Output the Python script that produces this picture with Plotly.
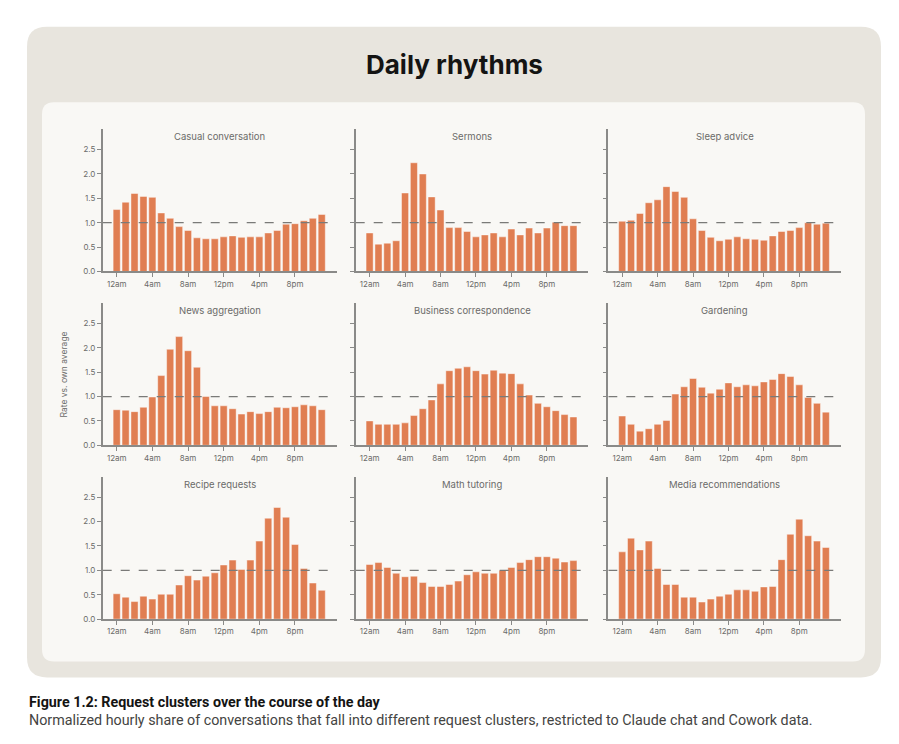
import plotly.graph_objects as go

hours = list(range(24))
tick_vals = [0, 4, 8, 12, 16, 20]
tick_text = ["12am", "4am", "8am", "12pm", "4pm", "8pm"]
y_tick_vals = [0, 0.5, 1.0, 1.5, 2.0, 2.5]
y_tick_text = ["0.0", "0.5", "1.0", "1.5", "2.0", "2.5"]

titles = ["Casual conversation", "Sermons", "Sleep advice",
          "News aggregation", "Business correspondence", "Gardening",
          "Recipe requests", "Math tutoring", "Media recommendations"]

casual = [1.27, 1.42, 1.60, 1.54, 1.52, 1.20, 1.09, 0.92, 0.84, 0.69, 0.67, 0.67,
          0.71, 0.73, 0.70, 0.71, 0.71, 0.79, 0.84, 0.97, 0.98, 1.04, 1.09, 1.17]
sermons = [0.79, 0.56, 0.58, 0.63, 1.61, 2.23, 2.00, 1.53, 1.26, 0.90, 0.90, 0.82,
           0.71, 0.75, 0.79, 0.71, 0.87, 0.75, 0.89, 0.79, 0.89, 1.01, 0.94, 0.94]
sleep = [1.03, 1.05, 1.19, 1.41, 1.47, 1.74, 1.64, 1.52, 1.08, 0.84, 0.70, 0.63,
         0.66, 0.71, 0.67, 0.66, 0.64, 0.73, 0.82, 0.84, 0.90, 1.00, 0.97, 0.99]
news = [0.73, 0.72, 0.69, 0.78, 0.99, 1.43, 1.97, 2.23, 1.94, 1.60, 1.00, 0.81,
        0.81, 0.75, 0.64, 0.69, 0.65, 0.69, 0.78, 0.77, 0.79, 0.83, 0.81, 0.73]
business = [0.50, 0.43, 0.43, 0.43, 0.46, 0.61, 0.75, 0.93, 1.26, 1.53, 1.58, 1.61,
            1.53, 1.46, 1.54, 1.48, 1.47, 1.26, 1.03, 0.86, 0.79, 0.71, 0.63, 0.58]
gardening = [0.60, 0.43, 0.29, 0.34, 0.43, 0.51, 1.05, 1.20, 1.37, 1.19, 1.07, 1.15,
             1.28, 1.20, 1.24, 1.22, 1.30, 1.35, 1.47, 1.41, 1.24, 0.98, 0.86, 0.68]
recipe = [0.52, 0.45, 0.36, 0.47, 0.41, 0.51, 0.51, 0.70, 0.89, 0.80, 0.88, 0.95,
          1.11, 1.21, 1.02, 1.21, 1.60, 2.07, 2.29, 2.09, 1.53, 1.04, 0.74, 0.59]
math = [1.12, 1.16, 1.06, 0.94, 0.87, 0.88, 0.75, 0.67, 0.67, 0.71, 0.78, 0.91,
        0.97, 0.94, 0.94, 1.00, 1.06, 1.16, 1.22, 1.28, 1.28, 1.25, 1.17, 1.20]
media = [1.38, 1.66, 1.42, 1.60, 1.04, 0.71, 0.71, 0.45, 0.45, 0.35, 0.41, 0.47,
         0.51, 0.60, 0.60, 0.57, 0.66, 0.67, 1.22, 1.74, 2.05, 1.71, 1.60, 1.47]

series = [casual, sermons, sleep, news, business, gardening, recipe, math, media]

W, H = 899, 744
BAR = "#E07E52"
AXIS = "#8A8A88"
TXT = "#6B6B69"
FONT = "Inter, Roboto, sans-serif"

col_px = [(102.7, 336.7), (355.7, 588.3), (608.3, 840.7)]
row_px = [(130, 273.3), (305, 448.3), (480, 623.3)]

fig = go.Figure()

for i, (name, vals) in enumerate(zip(titles, series)):
    r, c = divmod(i, 3)
    n = i + 1
    xa = "x" if n == 1 else f"x{n}"
    ya = "y" if n == 1 else f"y{n}"
    fig.add_trace(go.Bar(
        x=hours, y=vals, xaxis=xa, yaxis=ya,
        marker=dict(color=BAR, line=dict(color="rgba(255,255,255,0.55)", width=0.8)),
        showlegend=False, hoverinfo="x+y",
    ))
    x0, x1 = col_px[c]
    y0, y1 = row_px[r]
    xkey = "xaxis" if n == 1 else f"xaxis{n}"
    ykey = "yaxis" if n == 1 else f"yaxis{n}"
    fig.layout[xkey] = dict(
        domain=[x0 / W, x1 / W], anchor=ya, range=[-1.57, 24.68],
        tickvals=tick_vals, ticktext=tick_text, ticks="outside", ticklen=4,
        tickcolor=AXIS, tickwidth=1.2, showline=True, linecolor=AXIS, linewidth=1.5,
        showgrid=False, zeroline=False, tickfont=dict(family=FONT, size=8, color=TXT),
        fixedrange=True,
    )
    fig.layout[ykey] = dict(
        domain=[1 - y1 / H, 1 - y0 / H], anchor=xa, range=[0, 2.92],
        tickvals=y_tick_vals, ticktext=y_tick_text, ticks="outside", ticklen=4,
        tickcolor=AXIS, tickwidth=1.2, showline=True, linecolor=AXIS, linewidth=1.5,
        showgrid=False, zeroline=False, showticklabels=(c == 0),
        tickfont=dict(family=FONT, size=8, color=TXT), fixedrange=True,
    )
    # reference line at 1.0
    fig.add_shape(type="line", xref=xa, yref=ya, x0=-1.57, x1=24.68, y0=1, y1=1,
                  line=dict(color="#7A7A78", width=1.2, dash="dash"), layer="above")
    # panel title
    fig.add_annotation(text=name, xref="paper", yref="paper",
                       x=(x0 + x1) / 2 / W, y=1 - (y0 + 7.5) / H,
                       showarrow=False, xanchor="center", yanchor="middle",
                       font=dict(family=FONT, size=9.5, color=TXT))


def rounded_rect(x0, y0, x1, y1, r):
    X = lambda v: v / W
    Y = lambda v: 1 - v / H
    return (f"M {X(x0 + r)},{Y(y0)} L {X(x1 - r)},{Y(y0)} "
            f"Q {X(x1)},{Y(y0)} {X(x1)},{Y(y0 + r)} L {X(x1)},{Y(y1 - r)} "
            f"Q {X(x1)},{Y(y1)} {X(x1 - r)},{Y(y1)} L {X(x0 + r)},{Y(y1)} "
            f"Q {X(x0)},{Y(y1)} {X(x0)},{Y(y1 - r)} L {X(x0)},{Y(y0 + r)} "
            f"Q {X(x0)},{Y(y0)} {X(x0 + r)},{Y(y0)} Z")


fig.add_shape(type="path", xref="paper", yref="paper", layer="below",
              path=rounded_rect(27, 27, 881, 682, 20),
              fillcolor="#E8E5DE", line=dict(width=0))
fig.add_shape(type="path", xref="paper", yref="paper", layer="below",
              path=rounded_rect(42, 103, 865, 666, 12),
              fillcolor="#F9F8F5", line=dict(width=0))

fig.add_annotation(text="<b>Daily rhythms</b>", xref="paper", yref="paper",
                   x=454 / W, y=1 - 65 / H, showarrow=False,
                   xanchor="center", yanchor="middle",
                   font=dict(family=FONT, size=26, color="#141413"))

fig.add_annotation(text="Rate vs. own average", xref="paper", yref="paper",
                   x=64 / W, y=1 - 377 / H, showarrow=False, textangle=-90,
                   xanchor="center", yanchor="middle",
                   font=dict(family=FONT, size=8.5, color=TXT))

fig.add_annotation(text="<b>Figure 1.2: Request clusters over the course of the day</b>",
                   xref="paper", yref="paper", x=27 / W, y=1 - 707 / H,
                   showarrow=False, xanchor="left", yanchor="middle",
                   font=dict(family="Roboto, sans-serif", size=14.3, color="#141413"))
fig.add_annotation(text="Normalized hourly share of conversations that fall into different request clusters, restricted to Claude chat and Cowork data.",
                   xref="paper", yref="paper", x=27 / W, y=1 - 725 / H,
                   showarrow=False, xanchor="left", yanchor="middle",
                   font=dict(family="Roboto, sans-serif", size=14.3, color="#444442"))

fig.update_layout(
    width=W, height=H, margin=dict(l=0, r=0, t=0, b=0),
    paper_bgcolor="white", plot_bgcolor="rgba(0,0,0,0)",
    bargap=0.2, font=dict(family=FONT),
)

fig.write_html("out.html", config={"displayModeBar": False})
